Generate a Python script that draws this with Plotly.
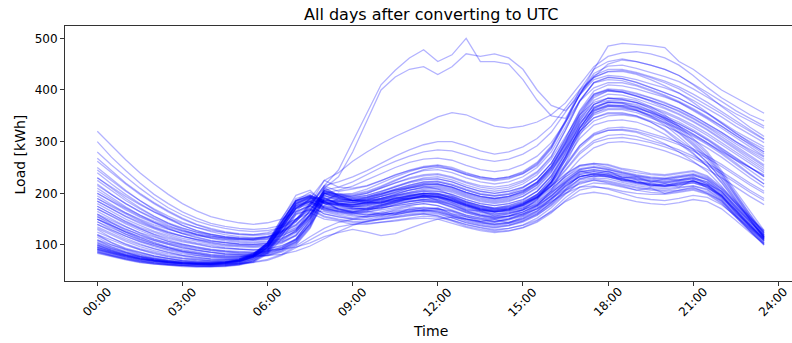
import plotly.graph_objects as go

# Half-hourly time axis in hours: 00:00, 00:30, ..., 23:30
half_hours = [h / 2 for h in range(48)]

tick_hours = [0, 3, 6, 9, 12, 15, 18, 21, 24]
tick_labels = ["00:00", "03:00", "06:00", "09:00", "12:00",
               "15:00", "18:00", "21:00", "24:00"]
y_ticks = [100, 200, 300, 400, 500]

# Daily load profiles [kWh], one row per day, 48 half-hour values each.
# Summer days: low nights, early morning rise, flat evening, steep late fall.
summer_days = [
    [92, 84, 77, 72, 68, 65, 63, 62, 62, 63, 66, 74,
     92, 135, 178, 192, 172, 166, 160, 158, 161, 166, 170, 173,
     170, 161, 151, 145, 141, 144, 151, 164, 186, 212, 233, 238,
     235, 228, 221, 217, 214, 218, 223, 214, 193, 166, 136, 110],
    [98, 88, 80, 74, 70, 66, 64, 63, 62, 64, 67, 78,
     100, 140, 176, 186, 184, 170, 165, 163, 168, 172, 177, 180,
     176, 166, 156, 149, 146, 150, 158, 172, 194, 220, 240, 244,
     240, 232, 226, 222, 220, 224, 228, 220, 198, 170, 140, 114],
    [88, 80, 74, 69, 65, 62, 60, 59, 59, 60, 63, 70,
     88, 125, 165, 176, 160, 155, 150, 150, 154, 158, 163, 165,
     162, 153, 143, 137, 133, 137, 144, 157, 178, 204, 226, 230,
     228, 221, 215, 211, 209, 212, 215, 208, 188, 160, 132, 106],
    [105, 94, 85, 78, 73, 69, 66, 65, 65, 66, 70, 80,
     96, 134, 170, 190, 192, 178, 172, 170, 176, 182, 186, 188,
     184, 174, 163, 156, 152, 155, 163, 178, 200, 226, 246, 250,
     246, 238, 232, 228, 225, 230, 234, 226, 204, 176, 145, 118],
    [115, 100, 90, 82, 76, 71, 68, 66, 66, 67, 71, 82,
     105, 152, 190, 198, 182, 176, 174, 178, 184, 190, 195, 198,
     192, 182, 170, 163, 158, 162, 170, 186, 208, 232, 252, 256,
     250, 242, 236, 232, 230, 234, 238, 230, 208, 180, 150, 124],
    [85, 78, 72, 67, 63, 61, 59, 58, 58, 59, 62, 68,
     84, 118, 158, 170, 156, 150, 146, 145, 149, 153, 157, 160,
     157, 148, 139, 133, 128, 132, 139, 152, 172, 198, 220, 225,
     222, 216, 210, 206, 204, 206, 210, 203, 184, 157, 128, 102],
    [95, 86, 79, 73, 69, 66, 64, 63, 63, 65, 69, 79,
     92, 126, 160, 176, 186, 168, 163, 166, 174, 182, 190, 196,
     194, 185, 174, 166, 160, 162, 168, 180, 200, 224, 242, 246,
     242, 236, 230, 226, 223, 226, 230, 222, 200, 172, 142, 116],
    [100, 90, 82, 76, 71, 67, 65, 64, 63, 65, 68, 77,
     96, 138, 176, 186, 170, 165, 163, 160, 158, 160, 164, 166,
     164, 156, 148, 142, 140, 142, 148, 160, 180, 206, 228, 234,
     232, 226, 220, 216, 214, 216, 220, 212, 192, 165, 137, 112],
    [110, 97, 87, 80, 74, 70, 67, 66, 65, 67, 71, 81,
     101, 145, 185, 196, 180, 174, 170, 172, 178, 184, 190, 192,
     188, 178, 166, 158, 154, 157, 164, 176, 196, 220, 238, 242,
     238, 232, 228, 224, 222, 226, 230, 222, 202, 174, 144, 120],
    [90, 82, 76, 70, 66, 63, 61, 60, 60, 61, 64, 72,
     90, 130, 170, 182, 166, 160, 156, 155, 158, 162, 166, 168,
     164, 156, 146, 140, 136, 139, 146, 158, 176, 200, 222, 228,
     224, 218, 212, 208, 206, 210, 214, 206, 186, 158, 130, 104],
    [120, 105, 94, 86, 79, 74, 70, 68, 67, 68, 72, 84,
     98, 130, 162, 180, 190, 180, 178, 182, 188, 194, 198, 200,
     196, 186, 176, 168, 164, 166, 172, 184, 204, 228, 246, 250,
     246, 240, 234, 230, 228, 232, 236, 228, 208, 180, 152, 128],
    [96, 87, 80, 74, 70, 67, 65, 64, 64, 66, 70, 80,
     100, 144, 186, 202, 184, 176, 170, 168, 172, 176, 180, 184,
     182, 172, 162, 155, 150, 152, 160, 174, 196, 222, 242, 246,
     242, 234, 228, 224, 220, 224, 228, 218, 196, 168, 138, 112],
    [86, 79, 73, 68, 64, 62, 60, 59, 59, 60, 63, 69,
     86, 122, 160, 168, 154, 148, 144, 142, 144, 146, 150, 152,
     150, 142, 134, 128, 124, 127, 133, 144, 162, 186, 206, 212,
     210, 204, 200, 198, 198, 202, 206, 198, 180, 154, 126, 100],
    [90, 82, 75, 70, 66, 63, 61, 60, 60, 62, 65, 72,
     88, 126, 164, 176, 160, 154, 150, 148, 150, 154, 158, 160,
     156, 148, 140, 134, 130, 132, 138, 148, 164, 184, 198, 202,
     198, 190, 184, 180, 178, 182, 188, 184, 170, 148, 124, 102],
    [102, 92, 84, 77, 72, 68, 66, 65, 64, 66, 69, 78,
     96, 138, 174, 184, 170, 166, 164, 168, 174, 180, 184, 186,
     182, 174, 164, 158, 154, 156, 160, 170, 184, 200, 212, 214,
     208, 200, 192, 188, 186, 190, 196, 192, 178, 156, 132, 108],
    [94, 85, 79, 73, 70, 66, 64, 62, 61, 63, 65, 73,
     90, 131, 171, 188, 174, 170, 162, 165, 160, 168, 174, 170,
     172, 160, 155, 146, 150, 143, 155, 166, 190, 208, 236, 232,
     238, 224, 226, 214, 219, 212, 226, 210, 196, 162, 139, 108],
    [108, 96, 86, 79, 74, 69, 66, 65, 64, 65, 70, 79,
     90, 120, 150, 172, 184, 182, 176, 184, 180, 192, 188, 196,
     186, 180, 168, 166, 156, 160, 168, 178, 202, 222, 244, 236,
     244, 230, 232, 222, 228, 226, 232, 218, 204, 172, 146, 116],
    [87, 80, 73, 68, 65, 62, 60, 59, 58, 60, 62, 69,
     85, 120, 150, 168, 164, 158, 152, 156, 162, 160, 170, 166,
     168, 158, 150, 144, 138, 142, 150, 162, 182, 206, 218, 226,
     220, 214, 206, 210, 200, 206, 212, 200, 186, 156, 130, 104],
    [118, 104, 92, 84, 78, 73, 69, 67, 66, 67, 71, 80,
     104, 146, 186, 196, 186, 186, 190, 194, 200, 206, 210, 214,
     208, 196, 184, 176, 170, 172, 180, 192, 214, 236, 254, 258,
     256, 248, 244, 238, 236, 240, 244, 234, 212, 184, 154, 126],
    [99, 89, 81, 75, 71, 67, 64, 63, 63, 64, 68, 76,
     95, 136, 180, 194, 172, 164, 158, 154, 156, 164, 168, 172,
     170, 164, 154, 150, 144, 148, 156, 170, 190, 216, 236, 242,
     236, 230, 222, 220, 216, 222, 224, 216, 194, 164, 134, 110],
    [92, 84, 78, 72, 68, 65, 63, 62, 62, 64, 67, 75,
     94, 134, 174, 184, 168, 162, 160, 164, 170, 178, 184, 188,
     186, 176, 166, 158, 152, 156, 164, 176, 194, 218, 232, 236,
     232, 224, 218, 214, 212, 216, 220, 212, 190, 162, 134, 108],
    [104, 93, 85, 78, 73, 69, 67, 65, 65, 66, 70, 78,
     104, 150, 196, 206, 180, 170, 164, 170, 176, 186, 194, 200,
     198, 190, 178, 170, 164, 168, 176, 190, 210, 232, 248, 252,
     248, 240, 234, 230, 228, 232, 236, 226, 204, 176, 148, 120],
    [84, 77, 71, 66, 63, 60, 58, 57, 57, 58, 61, 67,
     82, 112, 150, 162, 150, 146, 140, 140, 144, 148, 152, 156,
     154, 146, 136, 130, 126, 128, 134, 146, 166, 192, 212, 220,
     218, 212, 206, 202, 200, 204, 208, 200, 182, 154, 126, 100],
    [130, 114, 101, 91, 83, 77, 73, 70, 69, 70, 73, 82,
     104, 146, 186, 194, 182, 178, 176, 180, 186, 194, 200, 204,
     200, 190, 180, 172, 168, 170, 178, 192, 214, 238, 254, 258,
     254, 246, 240, 236, 234, 238, 242, 232, 210, 182, 152, 124],
    [96, 87, 80, 74, 70, 67, 65, 64, 63, 65, 68, 76,
     94, 132, 170, 180, 168, 164, 162, 158, 164, 170, 176, 180,
     176, 168, 158, 152, 146, 150, 158, 170, 190, 214, 232, 238,
     234, 228, 222, 218, 214, 220, 224, 216, 196, 168, 140, 112],
]

# Winter days: high nights, later morning rise, tall evening peak.
winter_days = [
    [320, 292, 265, 240, 218, 198, 180, 166, 155, 148, 143, 140,
     143, 150, 165, 190, 225, 212, 210, 215, 225, 235, 245, 252,
     255, 250, 240, 232, 228, 232, 240, 258, 290, 340, 400, 440,
     455, 460, 455, 448, 440, 428, 412, 395, 378, 360, 345, 330],
    [280, 255, 232, 210, 190, 172, 158, 146, 138, 132, 128, 126,
     128, 134, 146, 170, 205, 195, 195, 200, 210, 220, 230, 236,
     238, 232, 222, 215, 212, 216, 225, 242, 272, 322, 378, 415,
     425, 422, 415, 405, 395, 384, 370, 355, 338, 320, 305, 290],
    [250, 228, 206, 186, 168, 152, 138, 128, 120, 115, 112, 110,
     112, 118, 130, 155, 196, 188, 186, 190, 198, 206, 214, 220,
     222, 216, 206, 198, 195, 198, 206, 222, 252, 300, 355, 392,
     402, 400, 394, 385, 376, 364, 350, 334, 318, 300, 285, 270],
    [230, 210, 190, 172, 156, 142, 130, 120, 113, 108, 105, 104,
     106, 112, 125, 152, 200, 190, 186, 188, 194, 200, 206, 210,
     210, 204, 194, 186, 182, 186, 194, 210, 240, 290, 345, 385,
     398, 396, 388, 380, 370, 360, 346, 330, 314, 296, 279, 262],
    [210, 192, 174, 158, 144, 132, 122, 114, 108, 104, 101, 100,
     102, 108, 124, 160, 188, 196, 186, 186, 190, 196, 200, 204,
     204, 198, 188, 180, 176, 180, 188, 204, 234, 285, 340, 380,
     392, 390, 383, 374, 364, 352, 338, 322, 304, 285, 266, 248],
    [195, 178, 162, 148, 136, 126, 117, 110, 104, 100, 98, 97,
     99, 105, 120, 158, 212, 195, 188, 186, 188, 192, 196, 200,
     198, 192, 182, 174, 170, 174, 182, 198, 228, 278, 332, 372,
     384, 382, 375, 366, 355, 343, 328, 312, 294, 276, 258, 240],
    [175, 160, 146, 134, 124, 115, 108, 102, 97, 94, 92, 91,
     93, 99, 110, 140, 176, 190, 184, 182, 184, 188, 192, 194,
     192, 186, 176, 168, 165, 168, 176, 192, 222, 270, 325, 365,
     376, 374, 367, 358, 347, 335, 320, 303, 284, 264, 244, 225],
    [160, 147, 135, 124, 115, 107, 101, 96, 92, 89, 87, 86,
     88, 95, 110, 148, 210, 196, 186, 182, 182, 186, 190, 192,
     190, 184, 174, 166, 163, 166, 174, 190, 218, 264, 318, 358,
     370, 368, 361, 352, 342, 330, 315, 298, 279, 259, 238, 218],
    [262, 240, 218, 198, 180, 164, 150, 139, 130, 124, 120, 118,
     120, 126, 138, 164, 205, 196, 196, 202, 212, 224, 236, 246,
     250, 246, 236, 228, 224, 228, 238, 256, 288, 338, 392, 428,
     440, 440, 434, 426, 417, 406, 392, 376, 358, 340, 322, 305],
    [240, 218, 198, 180, 164, 150, 138, 128, 121, 116, 113, 112,
     114, 120, 132, 158, 200, 192, 194, 200, 210, 220, 228, 234,
     236, 230, 220, 212, 208, 212, 222, 240, 270, 322, 378, 414,
     424, 422, 414, 405, 395, 384, 370, 354, 336, 317, 298, 280],
    [200, 184, 168, 154, 142, 131, 122, 115, 109, 105, 102, 101,
     103, 109, 128, 168, 200, 198, 190, 192, 198, 206, 212, 218,
     218, 212, 202, 194, 190, 194, 202, 218, 248, 296, 350, 388,
     398, 396, 389, 380, 370, 358, 344, 328, 310, 292, 273, 255],
    [185, 170, 155, 142, 131, 121, 113, 107, 102, 98, 96, 95,
     97, 103, 118, 152, 208, 193, 186, 184, 186, 190, 194, 196,
     194, 188, 178, 170, 167, 170, 178, 194, 222, 270, 326, 366,
     378, 376, 369, 360, 350, 338, 323, 306, 288, 270, 251, 232],
    [300, 270, 244, 220, 198, 180, 164, 152, 142, 136, 132, 130,
     132, 138, 150, 176, 214, 204, 208, 214, 224, 236, 244, 250,
     252, 246, 236, 230, 226, 230, 238, 254, 286, 336, 392, 432,
     446, 448, 442, 434, 426, 416, 402, 386, 370, 354, 340, 326],
    [268, 244, 220, 200, 182, 166, 152, 140, 132, 126, 122, 120,
     122, 128, 140, 166, 204, 198, 200, 208, 220, 232, 242, 250,
     254, 248, 238, 232, 228, 232, 242, 260, 292, 340, 390, 420,
     428, 426, 420, 412, 404, 394, 380, 364, 348, 330, 314, 298],
    [218, 198, 180, 164, 150, 138, 128, 120, 114, 110, 107, 106,
     108, 114, 126, 154, 202, 192, 188, 192, 200, 208, 216, 222,
     222, 216, 206, 198, 194, 198, 206, 222, 252, 298, 352, 390,
     400, 398, 392, 384, 374, 364, 350, 334, 318, 300, 282, 266],
    [190, 174, 160, 146, 134, 124, 116, 110, 105, 101, 99, 98,
     100, 106, 118, 150, 184, 200, 192, 196, 204, 214, 222, 228,
     228, 222, 212, 204, 200, 204, 212, 228, 258, 306, 358, 392,
     400, 396, 388, 378, 366, 354, 340, 324, 306, 288, 270, 252],
    [170, 156, 143, 131, 121, 113, 106, 101, 96, 93, 91, 90,
     92, 98, 112, 148, 204, 192, 186, 186, 190, 196, 202, 206,
     204, 198, 188, 180, 176, 180, 188, 204, 232, 280, 334, 372,
     384, 382, 376, 368, 358, 346, 332, 316, 298, 280, 262, 244],
    [155, 142, 130, 120, 111, 104, 98, 93, 90, 87, 85, 84,
     86, 92, 106, 142, 200, 188, 182, 180, 182, 186, 190, 194,
     192, 186, 176, 168, 164, 168, 176, 192, 220, 266, 320, 360,
     372, 370, 364, 356, 346, 334, 320, 304, 286, 268, 250, 232],
    [225, 205, 186, 170, 155, 143, 133, 125, 118, 113, 110, 109,
     111, 117, 130, 158, 206, 198, 198, 204, 214, 226, 236, 244,
     246, 240, 230, 222, 218, 222, 232, 250, 280, 328, 380, 414,
     420, 418, 410, 400, 390, 378, 364, 348, 330, 312, 294, 276],
    [245, 224, 204, 186, 170, 156, 144, 134, 126, 120, 116, 114,
     116, 122, 134, 160, 202, 194, 192, 196, 204, 212, 220, 226,
     228, 222, 212, 204, 200, 204, 212, 228, 258, 306, 360, 398,
     410, 408, 402, 394, 386, 376, 362, 346, 330, 312, 296, 280],
]

# Spring / autumn days on summer time: early peak, steep decline.
shoulder_dst_days = [
    [140, 126, 113, 102, 93, 86, 80, 76, 73, 72, 73, 80,
     100, 140, 180, 190, 180, 178, 178, 182, 190, 198, 206, 212,
     212, 206, 196, 188, 184, 188, 198, 216, 246, 290, 335, 360,
     368, 370, 367, 355, 340, 318, 295, 270, 235, 195, 155, 118],
    [125, 113, 102, 93, 86, 80, 75, 72, 70, 69, 70, 78,
     98, 138, 176, 188, 176, 172, 170, 172, 178, 184, 190, 195,
     194, 188, 178, 170, 166, 170, 180, 198, 228, 270, 315, 340,
     350, 352, 348, 338, 324, 304, 284, 260, 228, 190, 152, 116],
    [160, 143, 128, 115, 104, 95, 88, 83, 79, 77, 77, 84,
     104, 146, 186, 196, 186, 184, 186, 192, 202, 212, 222, 230,
     232, 226, 216, 208, 204, 208, 218, 236, 266, 310, 352, 376,
     384, 384, 380, 368, 352, 330, 306, 280, 244, 204, 165, 128],
    [110, 100, 92, 85, 79, 74, 70, 68, 67, 67, 69, 77,
     96, 136, 172, 184, 172, 168, 166, 168, 172, 178, 184, 188,
     188, 182, 172, 164, 160, 164, 172, 188, 214, 252, 292, 314,
     322, 322, 318, 308, 296, 280, 262, 242, 214, 180, 146, 114],
    [150, 135, 121, 109, 99, 91, 85, 80, 77, 75, 75, 82,
     102, 142, 182, 194, 184, 180, 182, 186, 194, 202, 210, 216,
     216, 210, 200, 192, 188, 192, 202, 220, 250, 294, 338, 362,
     370, 368, 362, 350, 336, 316, 292, 266, 232, 194, 156, 122],
    [132, 119, 107, 97, 89, 83, 78, 74, 72, 71, 72, 79,
     98, 138, 178, 190, 180, 176, 174, 176, 182, 190, 196, 200,
     200, 194, 184, 176, 172, 176, 186, 204, 234, 276, 320, 346,
     354, 354, 350, 338, 322, 300, 278, 252, 220, 184, 148, 114],
    [145, 130, 117, 106, 97, 89, 83, 79, 76, 74, 74, 81,
     101, 142, 182, 192, 182, 180, 182, 188, 196, 204, 212, 218,
     218, 212, 202, 194, 190, 194, 204, 222, 252, 296, 342, 368,
     376, 376, 372, 360, 344, 322, 298, 272, 238, 198, 158, 120],
    [120, 109, 99, 91, 84, 78, 74, 71, 69, 68, 69, 76,
     95, 134, 172, 184, 174, 170, 168, 170, 176, 182, 188, 192,
     192, 186, 176, 168, 164, 168, 178, 196, 224, 264, 306, 332,
     340, 342, 338, 328, 314, 296, 276, 252, 222, 186, 150, 114],
    [135, 122, 110, 100, 92, 85, 80, 76, 73, 72, 73, 80,
     100, 140, 180, 192, 182, 178, 178, 182, 188, 196, 202, 208,
     208, 202, 192, 184, 180, 184, 194, 212, 242, 286, 330, 356,
     364, 364, 360, 348, 332, 310, 286, 260, 226, 188, 150, 116],
    [155, 139, 125, 112, 102, 94, 87, 82, 78, 76, 76, 83,
     103, 144, 184, 194, 186, 184, 186, 190, 198, 208, 216, 222,
     224, 218, 208, 200, 196, 200, 210, 228, 258, 302, 346, 372,
     380, 380, 376, 364, 348, 326, 302, 276, 240, 200, 160, 124],
]

# Spring / autumn days on standard time.
shoulder_std_days = [
    [165, 150, 136, 123, 112, 103, 96, 90, 86, 83, 82, 82,
     84, 92, 108, 140, 195, 185, 180, 180, 184, 190, 196, 200,
     200, 194, 184, 176, 172, 176, 184, 198, 222, 256, 292, 316,
     326, 328, 324, 316, 308, 298, 286, 272, 256, 238, 220, 204],
    [150, 137, 125, 114, 105, 97, 91, 86, 82, 80, 79, 79,
     81, 89, 104, 136, 190, 180, 175, 176, 180, 186, 192, 196,
     196, 190, 180, 172, 168, 172, 180, 194, 216, 246, 280, 302,
     312, 314, 310, 302, 294, 284, 272, 258, 242, 224, 206, 190],
    [175, 160, 145, 132, 120, 110, 102, 96, 91, 88, 86, 86,
     88, 96, 112, 145, 200, 190, 186, 188, 194, 202, 210, 216,
     218, 212, 202, 194, 190, 194, 204, 220, 248, 286, 326, 352,
     362, 362, 356, 346, 336, 324, 310, 294, 276, 256, 236, 218],
    [140, 128, 117, 107, 99, 92, 87, 83, 80, 78, 77, 77,
     79, 86, 100, 132, 188, 178, 172, 170, 172, 176, 180, 184,
     184, 178, 168, 160, 156, 160, 168, 182, 204, 234, 266, 288,
     298, 300, 296, 290, 282, 272, 260, 246, 230, 212, 194, 178],
    [158, 144, 131, 119, 109, 101, 94, 89, 85, 82, 81, 81,
     83, 91, 106, 138, 192, 182, 178, 178, 182, 188, 194, 198,
     198, 192, 182, 174, 170, 174, 182, 196, 220, 252, 288, 312,
     322, 324, 320, 312, 304, 294, 282, 268, 252, 234, 216, 200],
    [145, 133, 121, 111, 102, 95, 89, 85, 81, 79, 78, 78,
     80, 88, 102, 134, 190, 180, 174, 174, 178, 184, 190, 194,
     194, 188, 178, 170, 166, 170, 178, 192, 214, 244, 276, 298,
     306, 308, 304, 298, 290, 280, 268, 254, 238, 220, 202, 186],
    [170, 155, 141, 128, 117, 107, 100, 94, 89, 86, 84, 84,
     86, 94, 110, 142, 196, 186, 182, 184, 190, 198, 206, 212,
     214, 208, 198, 190, 186, 190, 200, 216, 244, 282, 320, 346,
     356, 356, 350, 340, 330, 318, 304, 288, 270, 250, 230, 212],
]

# Cold days with a high daytime load.
high_daytime_days = [
    [230, 212, 194, 178, 164, 152, 142, 134, 128, 124, 121, 120,
     124, 134, 150, 180, 225, 240, 262, 280, 296, 310, 322, 335,
     348, 356, 352, 340, 330, 326, 330, 338, 352, 375, 410, 445,
     465, 472, 474, 470, 462, 448, 428, 405, 385, 368, 352, 340],
    [205, 188, 172, 158, 146, 136, 128, 122, 117, 114, 112, 112,
     116, 126, 145, 175, 215, 222, 232, 244, 258, 272, 284, 294,
     300, 300, 292, 282, 276, 280, 290, 306, 330, 365, 400, 425,
     435, 436, 430, 420, 408, 394, 376, 356, 336, 316, 300, 285],
    [215, 198, 180, 165, 152, 141, 132, 125, 120, 116, 114, 113,
     116, 124, 138, 166, 206, 212, 222, 236, 250, 262, 272, 280,
     284, 282, 274, 266, 262, 266, 276, 292, 318, 356, 396, 424,
     436, 438, 432, 424, 414, 402, 386, 370, 354, 336, 320, 304],
    [185, 170, 156, 144, 133, 124, 117, 111, 107, 104, 102, 101,
     104, 112, 128, 158, 200, 206, 214, 226, 238, 250, 260, 266,
     268, 264, 254, 246, 242, 246, 256, 272, 298, 338, 378, 404,
     414, 414, 408, 398, 388, 376, 360, 344, 326, 308, 290, 272],
]

# Two exceptional days with a midday peak near 500 kWh.
peak_days = [
    [200, 185, 170, 156, 144, 134, 126, 120, 116, 113, 111, 111,
     115, 126, 148, 180, 215, 245, 300, 355, 410, 438, 462, 478,
     455, 468, 500, 455, 455, 450, 420, 380, 350, 345, 390, 440,
     485, 490, 488, 486, 482, 455, 440, 420, 400, 385, 370, 355],
    [190, 176, 162, 150, 139, 130, 123, 118, 114, 111, 110, 110,
     114, 124, 145, 178, 210, 232, 280, 340, 400, 425, 440, 445,
     430, 445, 470, 465, 470, 462, 440, 400, 370, 360, 390, 425,
     450, 458, 455, 448, 440, 428, 410, 390, 368, 348, 328, 310],
]

# Weekend / holiday days with a late, shallow morning rise.
holiday_days = [
    [100, 90, 82, 76, 71, 67, 65, 64, 63, 63, 64, 66,
     70, 80, 95, 110, 125, 135, 140, 145, 150, 155, 160, 162,
     160, 152, 144, 138, 134, 138, 146, 160, 182, 208, 228, 234,
     232, 226, 220, 216, 214, 218, 222, 214, 194, 166, 136, 110],
    [180, 165, 150, 138, 127, 118, 110, 104, 99, 95, 92, 90,
     90, 92, 96, 104, 116, 124, 130, 125, 118, 122, 132, 142,
     150, 154, 150, 146, 144, 150, 160, 176, 206, 256, 312, 354,
     368, 366, 360, 350, 338, 326, 312, 296, 280, 264, 250, 236],
    [92, 84, 77, 72, 68, 65, 63, 62, 61, 62, 64, 67,
     72, 82, 98, 116, 132, 144, 150, 154, 158, 162, 166, 168,
     166, 158, 150, 144, 140, 144, 152, 166, 188, 214, 232, 238,
     234, 228, 222, 218, 216, 220, 224, 216, 196, 168, 138, 112],
    [150, 138, 126, 116, 108, 101, 95, 90, 86, 83, 81, 80,
     80, 82, 88, 98, 112, 126, 138, 146, 152, 158, 164, 168,
     170, 166, 158, 152, 150, 156, 168, 188, 222, 272, 326, 364,
     376, 374, 366, 356, 344, 330, 314, 298, 282, 266, 250, 234],
]

all_days = (summer_days + winter_days + shoulder_dst_days + shoulder_std_days
            + high_daytime_days + peak_days + holiday_days)
assert all(len(day) == len(half_hours) for day in all_days)

fig = go.Figure()
for day in all_days:
    fig.add_trace(go.Scatter(
        x=half_hours, y=day, mode="lines",
        line=dict(color="rgba(0,0,255,0.3)", width=1.3),
        hoverinfo="skip", showlegend=False,
    ))

axis_color = "#333333"
font_family = "DejaVu Sans"

fig.update_layout(
    width=792, height=343,
    margin=dict(l=65, r=0, t=26, b=62),
    paper_bgcolor="white", plot_bgcolor="white",
    font=dict(family=font_family, color="black", size=12),
    showlegend=False,
)
fig.update_xaxes(
    range=[-1.138, 24.483], tickvals=tick_hours, showticklabels=False,
    ticks="outside", ticklen=4, tickwidth=1, tickcolor=axis_color,
    showline=True, linecolor=axis_color, linewidth=1, mirror=True,
    showgrid=False, zeroline=False,
)
fig.update_yaxes(
    range=[30.3, 523.8], tickvals=y_ticks,
    ticks="outside", ticklen=4, tickwidth=1, tickcolor=axis_color,
    tickfont=dict(size=12, color="black", family=font_family),
    showline=True, linecolor=axis_color, linewidth=1,
    showgrid=False, zeroline=False,
)

annotations = []
# Rotated time labels centred under their ticks; the last one is nudged
# left so that it stays inside the page.
for h, lab in zip(tick_hours, tick_labels):
    annotations.append(dict(
        x=h, xref="x", y=-0.083, yref="paper", text=lab, textangle=-45,
        showarrow=False, xanchor="center", yanchor="middle",
        xshift=-5 if h == 24 else 0,
        font=dict(size=12, color="black", family=font_family),
    ))
annotations.append(dict(
    x=0.503, xref="paper", y=-0.196, yref="paper", text="Time",
    showarrow=False, xanchor="center", yanchor="middle",
    font=dict(size=14, color="black", family=font_family),
))
annotations.append(dict(
    x=-0.062, xref="paper", y=0.496, yref="paper", text="Load [kWh]",
    textangle=-90, showarrow=False, xanchor="center", yanchor="middle",
    font=dict(size=14, color="black", family=font_family),
))
annotations.append(dict(
    x=0.503, xref="paper", y=1.047, yref="paper",
    text="All days after converting to UTC",
    showarrow=False, xanchor="center", yanchor="middle",
    font=dict(size=16, color="black", family=font_family),
))
fig.update_layout(annotations=annotations)

fig.write_html("out.html")
